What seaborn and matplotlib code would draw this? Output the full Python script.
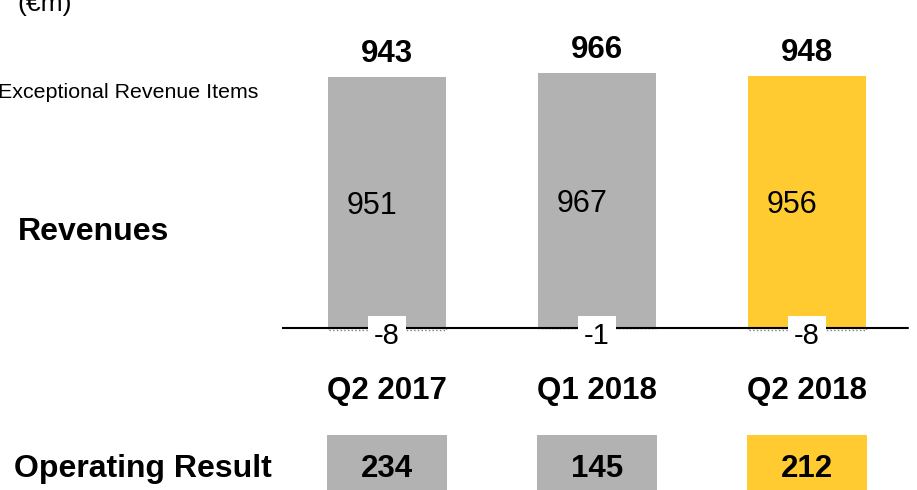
import numpy as np
import pandas as pd
import matplotlib
matplotlib.use("Agg")
import matplotlib.pyplot as plt
import seaborn as sns

# Quarterly figures (EUR million)
quarters = ["Q2 2017", "Q1 2018", "Q2 2018"]
revenues = [951, 967, 956]
exceptional_items = [-8, -1, -8]
operating_result = [234, 145, 212]
bar_colors = ["#B2B2B2", "#B2B2B2", "#FFCB31"]

df = pd.DataFrame({
    "quarter": quarters,
    "revenue": revenues,
    "exceptional": exceptional_items,
    "operating": operating_result,
})
df["total"] = df["revenue"] + df["exceptional"]
df["cell"] = 1.0

sns.set_style("white")
plt.rcParams["font.family"] = ["Liberation Sans", "DejaVu Sans"]
plt.rcParams["text.color"] = "black"
plt.rcParams["xtick.color"] = "black"
plt.rcParams["xtick.labelcolor"] = "black"

W, H = 917, 490
fig = plt.figure(figsize=(W / 100, H / 100), dpi=100)


def px_rect(x0, y0, x1, y1):
    return [x0 / W, 1 - y1 / H, (x1 - x0) / W, (y1 - y0) / H]


BAR_W = 0.562
SCALE = 0.264          # pixels per EUR million
BASE_Y = 328           # baseline row in pixels from the top
AX_BOTTOM = 340

# --- revenue bars -------------------------------------------------------
ax = fig.add_axes(px_rect(282, 0, 912, AX_BOTTOM))
palette = dict(zip(quarters, bar_colors))
sns.barplot(data=df, x="quarter", y="revenue", hue="quarter", order=quarters,
            palette=palette, saturation=1, width=BAR_W, errorbar=None,
            legend=False, linewidth=0, ax=ax)
sns.barplot(data=df, x="quarter", y="exceptional", order=quarters,
            color="white", saturation=1, width=BAR_W, errorbar=None,
            edgecolor="#7F7F7F", linewidth=1, linestyle=":", ax=ax)

ax.set_xlim(-0.5, 2.5)
ax.set_ylim(-(AX_BOTTOM - BASE_Y) / SCALE, BASE_Y / SCALE)
ax.axhline(0, xmin=0, xmax=(908 - 282) / 630, color="black", lw=1.5, zorder=3)
ax.set_xlabel("")
ax.set_ylabel("")
ax.set_yticks([])
ax.tick_params(axis="x", length=0, pad=26, labelsize=22.5, labelcolor="black")
for lbl in ax.get_xticklabels():
    lbl.set_fontweight("bold")
sns.despine(ax=ax, left=True, bottom=True)

for i, row in df.iterrows():
    ax.annotate(f"{row['total']}", xy=(i, row["revenue"]), xytext=(0, 10.8),
                textcoords="offset points", ha="center", va="baseline",
                fontsize=22.5, fontweight="bold", color="black")
    ax.annotate(f"{row['revenue']}", xy=(i, row["revenue"] / 2), xytext=(-10.5, 0),
                textcoords="offset points", ha="center", va="center_baseline",
                fontsize=22, color="black")
    ax.annotate(f"{row['exceptional']}", xy=(i, 0), xytext=(0, -3.6),
                textcoords="offset points", ha="center", va="center_baseline",
                fontsize=21, color="black", zorder=5,
                bbox=dict(boxstyle="square,pad=0.22", fc="white", ec="none"))

# --- operating result cells ---------------------------------------------
ax_op = fig.add_axes(px_rect(282, 435, 912, 490))
sns.barplot(data=df, x="quarter", y="cell", hue="quarter", order=quarters,
            palette=palette, saturation=1, width=0.57, errorbar=None,
            legend=False, linewidth=0, ax=ax_op)
ax_op.set_xlim(-0.5, 2.5)
ax_op.set_ylim(0, 1)
ax_op.axis("off")
for i, row in df.iterrows():
    ax_op.text(i, 0.45, f"{row['operating']}", ha="center", va="center_baseline",
               fontsize=22.5, fontweight="bold", color="black")

# --- row headings -------------------------------------------------------
fig.text(17 / W, 1 - 11 / H, "(€m)", ha="left", va="baseline", fontsize=19,
         color="black")
fig.text(258 / W, 1 - 90 / H, "Exceptional Revenue Items", ha="right",
         va="center_baseline", fontsize=15.4, color="black")
fig.text(18 / W, 1 - 228 / H, "Revenues", ha="left", va="center_baseline",
         fontsize=23, fontweight="bold", color="black")
fig.text(14 / W, 1 - 465 / H, "Operating Result", ha="left", va="center_baseline",
         fontsize=23, fontweight="bold", color="black")

fig.savefig("out.png", dpi=100)
